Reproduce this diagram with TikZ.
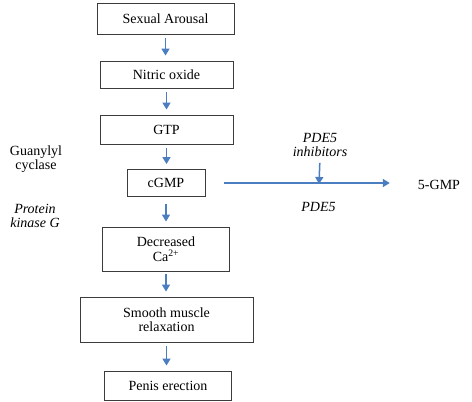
\documentclass[tikz,border=0pt]{standalone}
\usepackage{fontspec}
\setmainfont{Liberation Serif}
\newfontfamily\timesfont{Liberation Serif}
\definecolor{arrowblue}{RGB}{74, 126, 193}
\definecolor{boxgray}{RGB}{60, 60, 60}
\usepackage{tikz}
\usetikzlibrary{arrows.meta, positioning}

\begin{document}
\begin{tikzpicture}[x=1pt, y=-1pt,
    box/.style={draw=boxgray, line width=0.9pt, align=center, inner sep=2pt,
      font=\timesfont\fontsize{14}{14}\selectfont},
    lbl/.style={align=center, inner sep=1pt, font=\timesfont\fontsize{14}{14}\selectfont},
    flow/.style={-{Triangle[length=7pt, width=8pt]}, arrowblue, line width=1.5pt,
      shorten <=4pt, shorten >=5pt}]
      \useasboundingbox (0,0) rectangle (472,402);
      % Pathway boxes
      \node[box, minimum width=137pt, minimum height=31pt] (arousal) at (165.5,18.5) {Sexual Arousal};
      \node[box, minimum width=133pt, minimum height=27pt] (nitric) at (166.5,74.5) {Nitric oxide};
      \node[box, minimum width=133pt, minimum height=29pt] (gtp) at (166.5,129.5) {GTP};
      \node[box, minimum width=78pt, minimum height=27pt] (cgmp) at (166,183) {cGMP};
      \node[box, minimum width=127pt, minimum height=44pt] (calcium) at (166,249) {Decreased\\[1pt]Ca\textsuperscript{2+}};
      \node[box, minimum width=173pt, minimum height=45pt] (relax) at (166.5,319.5) {Smooth muscle\\relaxation};
      \node[box, minimum width=127pt, minimum height=29pt] (erection) at (168,385.5) {Penis erection};

      % Side labels
      \node[lbl] (cyclase) at (36,159) {Guanylyl\\cyclase};
      \node[lbl, font=\timesfont\fontsize{14}{14}\selectfont\itshape] (kinase) at (35,216) {Protein\\kinase G};
      \node[lbl, font=\timesfont\fontsize{14}{14}\selectfont\itshape] (inhib) at (320,145) {PDE5\\inhibitors};
      \node[lbl, font=\timesfont\fontsize{14}{14}\selectfont\itshape] (pde) at (318.5,207) {PDE5};
      \node[lbl] (gmp) at (439,185) {5-GMP};
      \coordinate (block) at (319,184);

      % Arrows down the pathway
      \draw[flow] (arousal.south) -- (arousal.south |- nitric.north);
      \draw[flow] (nitric.south) -- (nitric.south |- gtp.north);
      \draw[flow] (gtp.south) -- (gtp.south |- cgmp.north);
      \draw[flow, shorten <=7pt] (cgmp.south) -- (cgmp.south |- calcium.north);
      \draw[flow, shorten <=3pt] (calcium.south) -- (calcium.south |- relax.north);
      \draw[flow] (relax.south) -- (relax.south |- erection.north);

      % Breakdown of cGMP
      \draw[flow, shorten <=19pt, shorten >=27pt] (cgmp.east) -- (cgmp.east -| gmp.west);
      \draw[flow, shorten <=5pt, shorten >=0pt] (inhib.south) -- (block);
    \end{tikzpicture}
\end{document}
